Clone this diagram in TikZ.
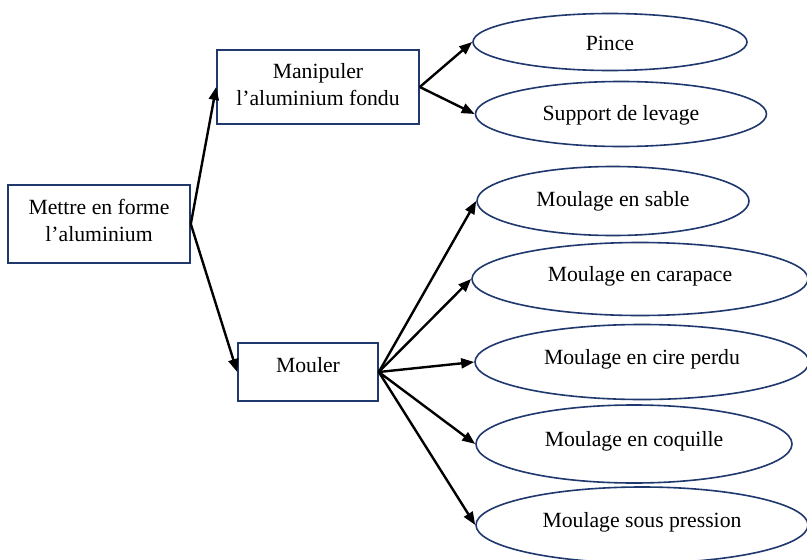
\documentclass[tikz,border=0pt]{standalone}
\usepackage{fontspec}
\setmainfont{Liberation Serif}
\usetikzlibrary{shapes.geometric,arrows.meta}
\definecolor{navy}{RGB}{31,56,110}
\tikzset{
  boxnode/.style={draw=navy, line width=1.6pt, rectangle, inner sep=0pt, align=center,
    font=\fontsize{21.7}{27}\selectfont},
  ellnode/.style={draw=navy, line width=1.6pt, ellipse, inner sep=0pt,
    text height=0.75em, text depth=0.35em, font=\fontsize{21.7}{27}\selectfont},
  arr/.style={line width=2.4pt, -{Triangle[length=13pt,width=10pt]}}
}
\begin{document}
\begin{tikzpicture}[x=1pt,y=-1pt]
\useasboundingbox (0,0) rectangle (807,560);
\clip (0,0) rectangle (807,560);
\fill[white] (0,0) rectangle (807,560);
\node[boxnode, minimum width=182pt, minimum height=78pt] (mettre) at (99,224) {Mettre en forme\\l’aluminium\rule[-8pt]{0pt}{8pt}};
\node[boxnode, minimum width=202pt, minimum height=74pt] (manip) at (318,87) {Manipuler\\l’aluminium fondu\rule[-6pt]{0pt}{6pt}};
\node[boxnode, minimum width=140pt, minimum height=58pt, text height=0.7em, text depth=0.6em] (mouler) at (308,372) {Mouler};
\node[ellnode, minimum width=274pt, minimum height=57pt, text height=18pt, text depth=0.4pt] (pince) at (610,42) {Pince};
\node[ellnode, minimum width=291pt, minimum height=65pt, text height=15pt, text depth=1.4pt] (support) at (621,114) {Support de levage};
\node[ellnode, minimum width=272pt, minimum height=69pt, text height=15pt, text depth=3.5pt] (sable) at (613,201) {Moulage en sable};
\node[ellnode, minimum width=336pt, minimum height=73pt] (carapace) at (640,279) {Moulage en carapace};
\node[ellnode, minimum width=334pt, minimum height=75pt] (cire) at (642,362) {Moulage en cire perdu};
\node[ellnode, minimum width=316pt, minimum height=78pt] (coquille) at (634,444) {Moulage en coquille};
\node[ellnode, minimum width=332pt, minimum height=76pt] (pression) at (642,525) {Moulage sous pression};
\draw[arr] (mettre.east) -- (manip.west);
\draw[arr] (mettre.east) -- (mouler.west);
\draw[arr] (manip.east) -- (pince.west);
\draw[arr] (manip.east) -- (support.west);
\draw[arr] (mouler.east) -- (sable.west);
\draw[arr] (mouler.east) -- (carapace.west);
\draw[arr] (mouler.east) -- (cire.west);
\draw[arr] (mouler.east) -- (coquille.west);
\draw[arr] (mouler.east) -- (pression.west);
\end{tikzpicture}
\end{document}
